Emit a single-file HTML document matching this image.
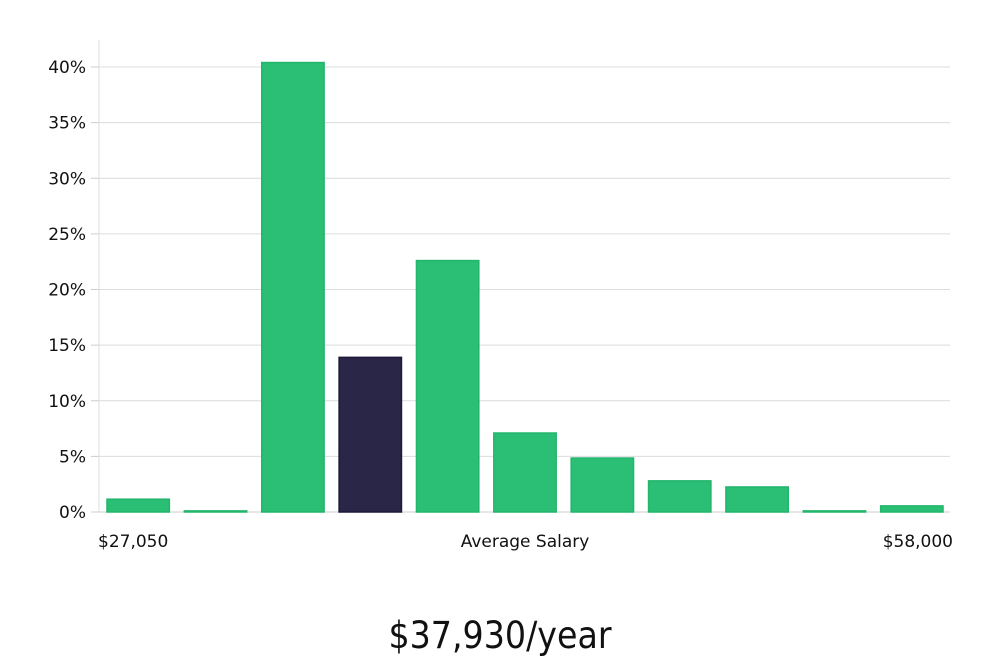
<!DOCTYPE html>
<html><head><meta charset="utf-8"><style>
body{margin:0;background:#fff;width:1000px;height:660px;overflow:hidden;font-family:"DejaVu Sans","Liberation Sans",sans-serif}
</style></head><body>
<svg width="1000" height="660" id="chart">
<text x="500" y="648" text-anchor="middle" font-family="'DejaVu Sans Condensed','DejaVu Sans',sans-serif" font-stretch="condensed" font-size="37" fill="#111">$37,930/year</text>
</svg>
<script>
const categories=["b1","b2","b3","b4","b5","b6","b7","b8","b9","b10","b11"];
const values=[1.15,0.1,40.4,13.9,22.6,7.1,4.85,2.8,2.25,0.1,0.55];
const highlightIndex=3;
const yTicks=[0,5,10,15,20,25,30,35,40];
const xLabels=["$27,050","Average Salary","$58,000"];
const svg=document.getElementById('chart');
const NS='http://www.w3.org/2000/svg';
const L=99,R=950,B=512,pxPer=11.125;
const y=v=>B-v*pxPer;
const band=(R-L)/categories.length;
function mk(t,a){const e=document.createElementNS(NS,t);for(const k in a)e.setAttribute(k,a[k]);svg.appendChild(e);return e;}
yTicks.forEach(t=>{
 const g=mk('line',{x1:L,x2:R,y1:y(t),y2:y(t),stroke:'#dcdcdc','stroke-width':1});
 
 
 const tk=mk('line',{x1:L-8,x2:L,y1:y(t),y2:y(t),stroke:'#ccc'});
 
 
 const tx=mk('text',{x:L-13,y:y(t)+6,'text-anchor':'end','font-size':17,fill:'#111'});
 tx.textContent=t+'%';
 
 
});
const ax=mk('line',{x1:L,x2:L,y1:40,y2:B,stroke:'#ddd'});


const bx=mk('line',{x1:L,x2:R,y1:B,y2:B,stroke:'#ccc'});


values.forEach((v,i)=>{
 const x0=L+i*band+8,w=band-15;
 const hl=i===highlightIndex;
 const r=mk('rect',{x:x0,y:y(v),width:w,height:Math.max(1,B-y(v)),fill:hl?'#2a2647':'#2bbf76',stroke:hl?'#1c1838':'#22b56c','stroke-width':1.5});
 
 
});
const pos=[[98,'start'],[525,'middle'],[953,'end']];
xLabels.forEach((s,i)=>{
 const t=mk('text',{x:pos[i][0],y:547,'text-anchor':pos[i][1],'font-size':17,fill:'#111'});
 t.textContent=s;
 
 
});
</script>
</body></html>
